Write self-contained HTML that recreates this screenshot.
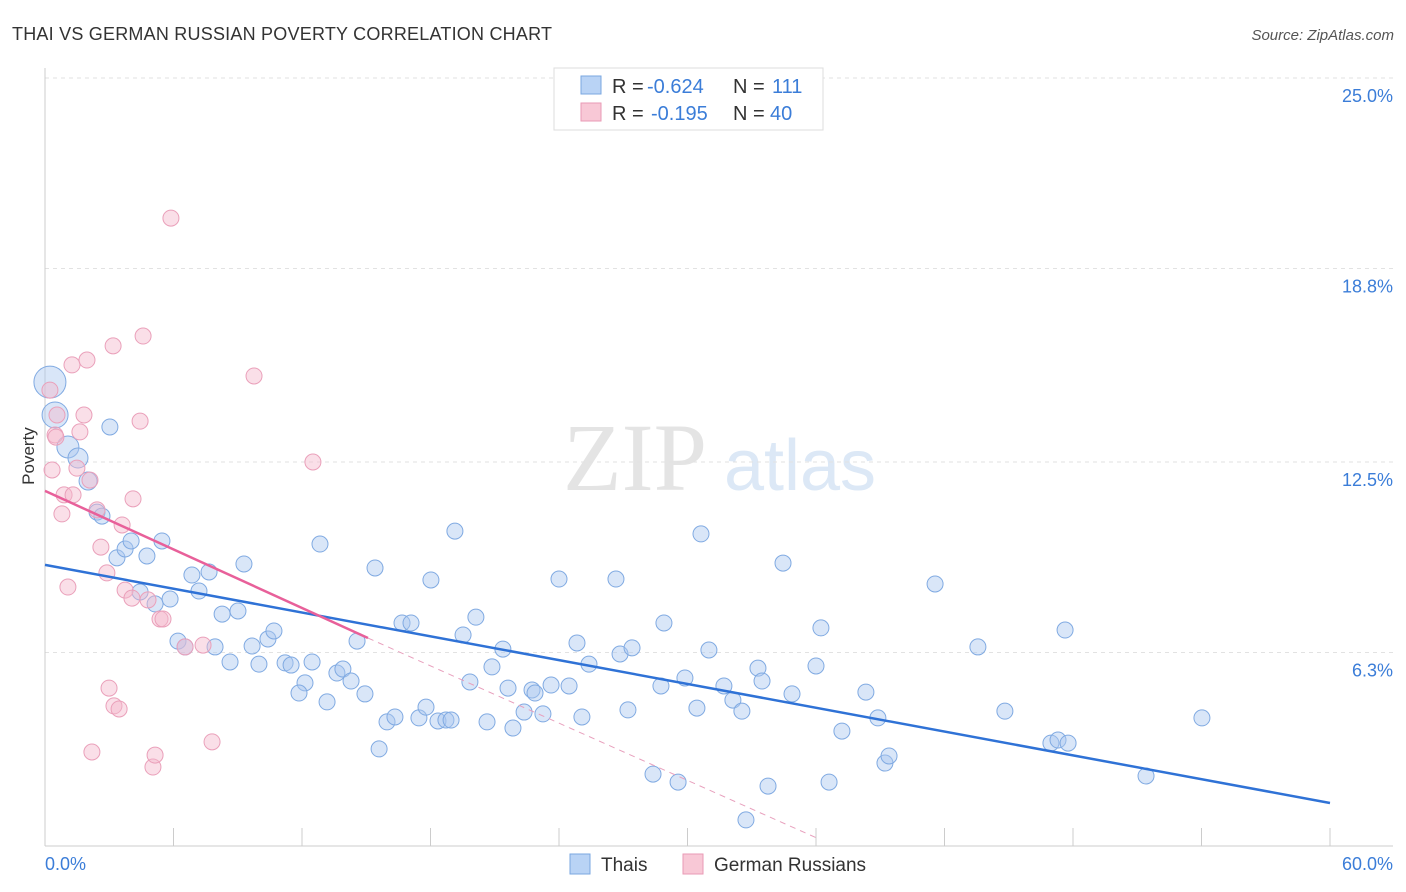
<!DOCTYPE html>
<html><head><meta charset="utf-8">
<style>
body{margin:0;background:#fff;font-family:"Liberation Sans",sans-serif;}
#wrap{position:relative;width:1406px;height:892px;overflow:hidden;}
</style></head>
<body>
<div id="wrap">
<svg id="svg" width="1406" height="892" xmlns="http://www.w3.org/2000/svg">
<text x="12" y="40" font-size="18" fill="#333" textLength="540">THAI VS GERMAN RUSSIAN POVERTY CORRELATION CHART</text>
<text x="1394" y="40" font-size="15" fill="#555" font-style="italic" text-anchor="end">Source: ZipAtlas.com</text>
<g>
<text x="635" y="490" font-size="96" fill="#e4e4e4" font-family="Liberation Serif,serif" text-anchor="middle">ZIP</text>
<text x="800" y="490" font-size="72" fill="#dce8f6" text-anchor="middle">atlas</text>
</g>
<g id="grid"></g>
<g id="axes"></g>
<g id="marks"></g>
<text x="34" y="456" font-size="17" fill="#333" transform="rotate(-90 34 456)" text-anchor="middle">Poverty</text>
<text x="45" y="870" font-size="18" fill="#3b7dd8">0.0%</text>
<text x="1393" y="870" font-size="18" fill="#3b7dd8" text-anchor="end">60.0%</text>
<g>
<rect x="554" y="68" width="269" height="62" fill="#fff" stroke="#ddd"/>
<rect x="581" y="76" width="20" height="18" fill="#b9d3f5" stroke="#7aa7e0"/>
<text x="612" y="93" font-size="20" fill="#333">R =</text>
<text x="647" y="93" font-size="20" fill="#3b7dd8">-0.624</text>
<text x="733" y="93" font-size="20" fill="#333">N =</text>
<text x="772" y="93" font-size="20" fill="#3b7dd8">111</text>
<rect x="581" y="103" width="20" height="18" fill="#f8c8d6" stroke="#e99ab5"/>
<text x="612" y="120" font-size="20" fill="#333">R =</text>
<text x="651" y="120" font-size="20" fill="#3b7dd8">-0.195</text>
<text x="733" y="120" font-size="20" fill="#333">N =</text>
<text x="770" y="120" font-size="20" fill="#3b7dd8">40</text>
</g>
<g>
<rect x="570" y="854" width="20" height="20" fill="#b9d3f5" stroke="#7aa7e0"/>
<text x="601" y="871" font-size="19" fill="#333">Thais</text>
<rect x="683" y="854" width="20" height="20" fill="#f8c8d6" stroke="#e99ab5"/>
<text x="714" y="871" font-size="19" fill="#333">German Russians</text>
</g>
</svg>
</div>
<script>
const yTicks=[25.0,18.8,12.5,6.3];
const yTickLabels=["25.0%","18.8%","12.5%","6.3%"];
const xTicks=[0,6,12,18,24,30,36,42,48,54,60];
const thaiX=[0.23,0.47,1.07,1.54,2.01,3.03,2.43,2.66,3.36,3.74,4.02,4.76,5.46,4.44,5.14,5.84,6.86,7.19,7.66,8.27,9.01,9.29,6.21,6.54,7.94,8.64,9.67,9.99,10.41,10.69,11.21,11.49,12.14,11.86,12.47,12.84,13.17,13.63,13.91,14.29,14.57,14.94,15.41,15.60,15.97,16.34,16.67,17.09,17.46,17.79,18.02,18.35,18.72,18.96,19.14,19.52,19.84,20.12,20.64,20.87,21.38,21.62,21.85,22.37,22.74,22.88,23.25,23.63,24.00,24.47,24.84,25.07,25.40,26.66,26.85,27.22,27.41,28.39,28.76,28.90,29.56,29.88,30.44,30.63,31.00,31.70,32.12,32.54,32.73,33.29,33.48,33.76,34.46,34.88,36.00,36.23,36.61,37.21,38.33,38.89,39.22,39.41,41.56,43.56,44.82,46.97,47.30,47.63,47.77,51.41,54.02];
const thaiY=[15.10,14.03,12.99,12.63,11.88,13.64,10.87,10.74,9.38,9.67,9.93,9.44,9.93,8.27,7.88,8.04,8.82,8.30,8.92,7.55,7.65,9.18,6.67,6.48,6.48,5.99,6.51,5.92,6.74,7.00,5.96,5.89,5.31,4.98,5.99,9.83,4.69,5.63,5.76,5.37,6.67,4.95,9.05,3.16,4.04,4.20,7.26,7.26,4.17,4.52,8.66,4.07,4.10,4.10,10.25,6.87,5.34,7.45,4.04,5.83,6.41,5.14,3.84,4.36,5.08,4.98,4.30,5.24,8.69,5.21,6.61,4.20,5.92,8.69,6.25,4.43,6.45,2.34,5.21,7.26,2.08,5.47,4.49,10.16,6.38,5.21,4.75,4.39,0.85,5.79,5.37,1.95,9.21,4.95,5.86,7.10,2.08,3.74,5.01,4.17,2.70,2.93,8.53,6.48,4.39,3.35,3.45,7.03,3.35,2.28,4.17];
const thaiSize=[16,13,11,10,9];
const grX=[0.23,0.33,0.47,0.56,0.79,0.89,1.07,1.26,1.31,1.49,1.63,1.82,1.96,2.10,2.43,2.61,2.89,2.99,3.18,3.22,3.46,3.60,3.74,4.06,4.11,4.44,4.58,4.81,5.04,5.14,5.37,5.51,5.88,6.54,7.38,7.80,9.76,12.51,2.19,0.51];
const grY=[14.84,12.24,13.38,14.03,10.81,11.43,8.43,15.66,11.43,12.30,13.48,14.03,15.82,11.91,10.94,9.73,8.89,5.14,16.28,4.56,4.46,10.45,8.33,8.07,11.30,13.83,16.60,8.01,2.57,2.96,7.39,7.39,20.44,6.48,6.54,3.39,15.30,12.50,3.06,13.31];
const thaiLine=[0,9.15,60,1.40];
const grLine=[0,11.56,15.08,6.77];
const grDash=[15.08,6.77,36.04,0.26];

const NS="http://www.w3.org/2000/svg";
const X=v=>45+v*1285/60;
const Y=v=>846-v*30.72;
function mk(tag,attrs,parent){const e=document.createElementNS(NS,tag);for(const k in attrs)e.setAttribute(k,attrs[k]);parent.appendChild(e);return e;}
const grid=document.getElementById('grid'),axes=document.getElementById('axes'),marks=document.getElementById('marks');
yTicks.forEach((t,i)=>{
  const l=mk('line',{x1:45,x2:1393,y1:Y(t),y2:Y(t),stroke:'#e2e2e2','stroke-dasharray':'4,4'},grid);
  
  
  const tx=mk('text',{x:1393,y:Y(t)+24,'font-size':18,fill:'#3b7dd8','text-anchor':'end'},grid);
  tx.textContent=yTickLabels[i];
  
  
});
const ya=mk('line',{x1:45,x2:45,y1:68,y2:846,stroke:'#ccc'},axes);


const xa=mk('line',{x1:45,x2:1393,y1:846,y2:846,stroke:'#ccc'},axes);


xTicks.forEach(t=>{
  const l=mk('line',{x1:X(t),x2:X(t),y1:828,y2:846,stroke:'#ccc'},axes);
  
  
});
thaiX.forEach((x,i)=>{
  const c=mk('circle',{cx:X(x),cy:Y(thaiY[i]),r:thaiSize[i]||8,fill:'rgba(170,200,240,0.45)',stroke:'#80aae2','stroke-width':1},marks);
  
  
});
grX.forEach((x,i)=>{
  const c=mk('circle',{cx:X(x),cy:Y(grY[i]),r:8,fill:'rgba(245,185,205,0.45)',stroke:'#eaa0ba','stroke-width':1},marks);
  
  
});
const bl=mk('line',{x1:X(thaiLine[0]),y1:Y(thaiLine[1]),x2:X(thaiLine[2]),y2:Y(thaiLine[3]),stroke:'#2f72d6','stroke-width':2.5},marks);


const pl=mk('line',{x1:X(grLine[0]),y1:Y(grLine[1]),x2:X(grLine[2]),y2:Y(grLine[3]),stroke:'#e8609a','stroke-width':2.5},marks);


const pd=mk('line',{x1:X(grDash[0]),y1:Y(grDash[1]),x2:X(grDash[2]),y2:Y(grDash[3]),stroke:'#e8a0bd','stroke-width':1,'stroke-dasharray':'6,5'},marks);


</script>
</body></html>
